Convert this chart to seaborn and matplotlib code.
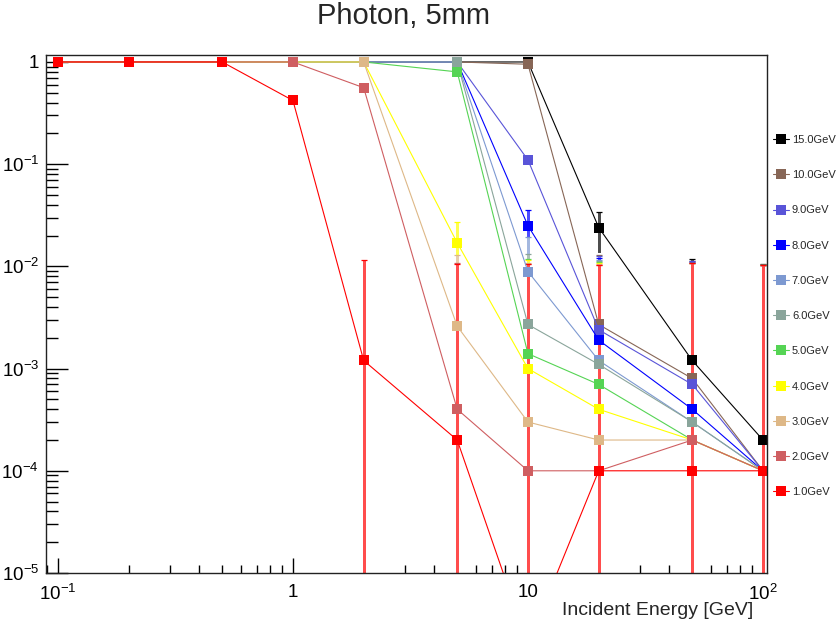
import matplotlib
matplotlib.use("Agg")
import matplotlib.pyplot as plt
from matplotlib.colors import to_rgb
from matplotlib.lines import Line2D
from matplotlib.ticker import FixedLocator, FixedFormatter, LogLocator, NullFormatter
import pandas as pd
import seaborn as sns

# Data
energy = [0.1, 0.2, 0.5, 1, 2, 5, 10, 20, 50, 100]
thresholds = ["15.0GeV", "10.0GeV", "9.0GeV", "8.0GeV", "7.0GeV", "6.0GeV",
              "5.0GeV", "4.0GeV", "3.0GeV", "2.0GeV", "1.0GeV"]
colors = ["#000000", "#876656", "#5954d8", "#0000ff", "#7d99d1", "#8aa59b",
          "#55d454", "#ffff00", "#deb887", "#cf5e61", "#ff0000"]

eff_15 = [1, 1, 1, 1, 1, 1, 1.0, 2.4e-2, 1.2e-3, 2e-4]
eff_10 = [1, 1, 1, 1, 1, 1, 0.95, 2.7e-3, 8e-4, 1e-4]
eff_9 = [1, 1, 1, 1, 1, 1, 0.11, 2.4e-3, 7e-4, 1e-4]
eff_8 = [1, 1, 1, 1, 1, 1, 2.5e-2, 1.9e-3, 4e-4, 1e-4]
eff_7 = [1, 1, 1, 1, 1, 1, 8.9e-3, 1.2e-3, 3e-4, 1e-4]
eff_6 = [1, 1, 1, 1, 1, 1, 2.7e-3, 1.1e-3, 3e-4, 1e-4]
eff_5 = [1, 1, 1, 1, 1, 0.8, 1.4e-3, 7e-4, 2e-4, 1e-4]
eff_4 = [1, 1, 1, 1, 1, 1.7e-2, 1e-3, 4e-4, 2e-4, 1e-4]
eff_3 = [1, 1, 1, 1, 1, 2.6e-3, 3e-4, 2e-4, 2e-4, 1e-4]
eff_2 = [1, 1, 1, 1, 0.56, 4e-4, 1e-4, 1e-4, 2e-4, 1e-4]
eff_1 = [1, 1, 1, 0.42, 1.2e-3, 2e-4, 2e-6, 1e-4, 1e-4, 1e-4]
effs = [eff_15, eff_10, eff_9, eff_8, eff_7, eff_6, eff_5, eff_4, eff_3, eff_2, eff_1]

# error on each point (same for all thresholds)
stat_err = [0.0103, 0.0103, 0.0103, 0.0103, 0.0103, 0.0103, 0.0105, 0.0103, 0.0106, 0.0103]

rows = []
for name, vals in zip(thresholds, effs):
    for e, v in zip(energy, vals):
        rows.append({"energy": e, "eff": v, "threshold": name})
df = pd.DataFrame(rows)
palette = dict(zip(thresholds, colors))

sns.set_theme(style="ticks")
plt.rcParams["font.family"] = ["Liberation Sans", "DejaVu Sans"]
plt.rcParams["mathtext.fontset"] = "custom"
plt.rcParams["mathtext.rm"] = "Liberation Sans"
plt.rcParams["mathtext.it"] = "Liberation Sans:italic"
plt.rcParams["mathtext.bf"] = "Liberation Sans:bold"

fig = plt.figure(figsize=(8.38, 6.21), dpi=100)
ax = fig.add_axes([46 / 838, 1 - 573 / 621, (767 - 46) / 838, (573 - 55) / 621])

ax.set_xscale("log")
ax.set_yscale("log")
ax.set_xlim(0.089, 104)
ax.set_ylim(1e-5, 1.17)


def lighter(c, f=0.3):
    r, g, b = to_rgb(c)
    return (r + (1 - r) * f, g + (1 - g) * f, b + (1 - b) * f)


# error bars under the markers; lower threshold curves end up on top
for i, (name, vals) in enumerate(zip(thresholds, effs)):
    lo = [max(v - s, 5e-6) for v, s in zip(vals, stat_err)]
    hi = [v + s for v, s in zip(vals, stat_err)]
    ax.vlines(energy, lo, hi, colors=[lighter(palette[name])], linewidth=0.8,
              antialiased=False, zorder=1.0 + 0.05 * i)
    ax.plot(energy, hi, linestyle="none", marker="_", markersize=5, markeredgewidth=0.9,
            color=palette[name], zorder=1.0 + 0.05 * i)

sns.lineplot(data=df, x="energy", y="eff", hue="threshold", hue_order=thresholds,
             palette=palette, marker="s", markersize=7, markeredgewidth=0,
             linewidth=0.8, estimator=None, legend=False, ax=ax)

ax.set_xlim(0.089, 104)
ax.set_ylim(1e-5, 1.17)

ax.xaxis.set_major_locator(FixedLocator([0.1, 1, 10, 100]))
ax.xaxis.set_major_formatter(FixedFormatter([r"$10^{-1}$", "1", "10", r"$10^{2}$"]))
ax.xaxis.set_minor_locator(LogLocator(base=10, subs=range(2, 10)))
ax.xaxis.set_minor_formatter(NullFormatter())
ax.yaxis.set_major_locator(FixedLocator([1e-5, 1e-4, 1e-3, 1e-2, 1e-1, 1]))
ax.yaxis.set_major_formatter(FixedFormatter([r"$10^{-5}$", r"$10^{-4}$", r"$10^{-3}$",
                                             r"$10^{-2}$", r"$10^{-1}$", "1"]))
ax.yaxis.set_minor_locator(LogLocator(base=10, subs=range(2, 10)))
ax.yaxis.set_minor_formatter(NullFormatter())

ax.tick_params(axis="both", which="both", direction="in", top=False, right=False,
               color="black", width=1.0, labelsize=13.5, labelcolor="black")
ax.tick_params(axis="y", which="major", length=15.8, pad=5)
ax.tick_params(axis="y", which="minor", length=8.6)
ax.tick_params(axis="x", which="major", length=10.8, pad=8)
ax.tick_params(axis="x", which="minor", length=5.8)
for sp in ax.spines.values():
    sp.set_color("#222222")
    sp.set_linewidth(1.0)
ax.set_xlabel("")
ax.set_ylabel("")

fig.text(403 / 838, 1 - 24 / 621, "Photon, 5mm", ha="center", va="baseline", fontsize=21)
fig.text(753 / 838, 1 - 615 / 621, "Incident Energy [GeV]", ha="right", va="baseline",
         fontsize=14)

handles = [Line2D([0], [0], color=palette[n], marker="s", markersize=7,
                  markeredgewidth=0, linewidth=0.8) for n in thresholds]
fig.legend(handles, thresholds, loc="upper left", bbox_to_anchor=(773 / 838, 1 - 135 / 621),
           frameon=False, fontsize=8, handlelength=1.4, handletextpad=0.3,
           labelspacing=2.27, borderpad=0, borderaxespad=0)

fig.savefig("out.png", dpi=100)
